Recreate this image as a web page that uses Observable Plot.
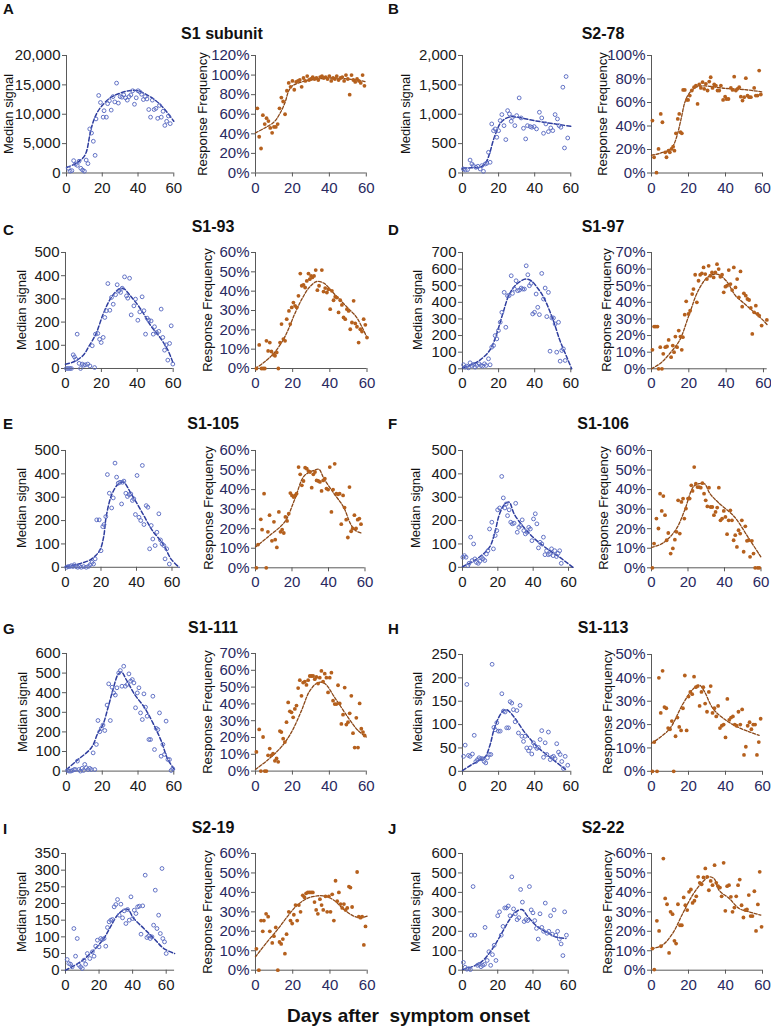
<!DOCTYPE html>
<html><head><meta charset="utf-8">
<script src="https://cdn.jsdelivr.net/npm/d3@7"></script>
<script src="https://cdn.jsdelivr.net/npm/@observablehq/plot@0.6"></script>
<style>
html,body{margin:0;padding:0;background:#fff;}
#chart{position:relative;width:771px;height:1026px;overflow:hidden;font-family:"Liberation Sans",Arial,sans-serif;background:#fff;}
#chart svg{position:absolute;}
.lbl{position:absolute;white-space:nowrap;}
.title{font-weight:bold;font-size:16px;line-height:16px;color:#111;transform:translate(-50%,-50%);}
.letter{font-weight:bold;font-size:15px;line-height:15px;color:#111;transform:translate(0,-50%);}
.ytitle{font-size:13px;line-height:13px;color:#111;transform:translate(-50%,-50%) rotate(-90deg);}
.xtitle{font-weight:bold;font-size:19px;line-height:19px;color:#111;white-space:pre;transform:translate(0,-50%);}
</style></head><body><div id="chart"></div><script>
// ---------------- DATA (day, value) ----------------
const A_signal = [[1,800],[2,300],[3,400],[4,2100],[5,1500],[6,1300],[7,2000],[8,800],[9,500],[10,300],[11,2200],[12,1600],[13,7500],[14,6800],[15,5400],[16,3000],[16.5,9200],[18,13200],[19,12000],[20.5,9500],[21,10600],[22.3,9500],[23,11800],[24,12300],[25,10700],[26,13000],[27,12100],[28,15300],[29,11900],[30,13000],[31,12900],[32,13300],[33,12800],[34,12400],[35,13000],[36,13300],[37,14000],[38,11700],[39,12800],[40,14000],[41,13800],[42,13400],[43,12500],[44,13000],[45,12600],[46,10800],[47,9500],[48,12400],[49,10800],[50,11000],[51,9300],[52,11500],[53,9500],[54,10500],[55,8100],[56,8800],[57,9700],[58,8400]];
const A_signal_fit = [[0,900],[5,1600],[9,2500],[11,3500],[13,6400],[14.5,8300],[17,10200],[20,11500],[25,12900],[30,13600],[35,14000],[40,14000],[45,13300],[50,12300],[55,10800],[60,8800]];
const A_resp = [[1,66],[2,37],[3,25],[4,59],[5,50],[6,56],[7,53],[8,46],[9,41],[10,47],[11,47],[12,50],[13,66],[14,77],[15,73],[16,60],[17,84],[18,92],[19,88],[20,94],[21,85],[22,93],[23,94],[24,95],[25,88],[26,97],[27,94],[28,99],[29,95],[30,96],[31,98],[32,96],[33,97],[34,95],[35,98],[36,99],[37,97],[38,98],[39,96],[40,99],[41,94],[42,97],[43,96],[44,99],[45,95],[46,97],[47,98],[48,94],[49,100],[50,96],[51,80],[52,100],[53,95],[54,93],[55,96],[56,94],[57,92],[58,100],[59,89]];
const A_resp_fit = [[0,41],[5,46],[10,52],[13,60],[16,72],[18,84],[20,89],[25,93],[30,95],[40,97],[50,96],[55,95],[60,93]];

const B_signal = [[0.5,68],[1.5,51],[2.8,57],[4.2,220],[5.2,153],[6,125],[7.4,97],[8.5,114],[9.8,68],[10.7,125],[11.6,28],[12.6,153],[13.5,165],[14.4,352],[15.3,182],[16.2,835],[17.2,720],[18.1,750],[19,608],[20,720],[20.9,892],[21.8,994],[23,806],[24,568],[25,1062],[26,1005],[27,880],[27.7,948],[29,806],[30,977],[31.4,1278],[32.5,937],[33.8,761],[35,580],[36,806],[37.5,790],[38.4,778],[39.7,790],[41,750],[42.6,1034],[43.9,937],[44.9,676],[46.2,835],[47.6,704],[48.9,767],[50,721],[51.3,994],[52.6,920],[53.5,806],[54.5,778],[55.6,1460],[56.5,426],[57.4,1642],[58.3,596]];
const B_signal_fit = [[0,85],[5,88],[10,100],[13,180],[15,330],[17,550],[19,720],[21,850],[24,930],[27,960],[30,950],[40,890],[50,840],[60,795]];
const B_resp = [[0.5,44.6],[1.4,13.4],[2.7,0.3],[3.8,20.5],[5,50.3],[5.9,43.2],[7.4,17.6],[8.1,13.4],[9.2,19],[9.9,17.6],[10.8,20.5],[11.7,22.4],[12.4,19],[13.2,33.8],[14.2,46],[15,50.3],[15.7,34.7],[16.4,33.8],[17.1,70.7],[18,70.7],[19.1,62.2],[19.8,62.2],[20.7,65.9],[21.8,70.2],[23,73],[24,74.4],[24.9,58.8],[25.8,75.3],[26.7,72.4],[27.6,77.3],[28.5,71.6],[29.4,75.9],[30.3,70.2],[31.2,77.8],[32,81.5],[33,72.4],[33.9,75.3],[34.8,74.4],[35.7,70.2],[36.6,70.2],[37.5,74.4],[38.7,62.2],[39.8,65],[40.5,63],[41.6,63],[42.9,72.4],[43.8,70.7],[44.7,82],[45.6,70.2],[46.5,71.6],[47.4,73],[48.3,65],[49.2,61.6],[50.1,64.5],[51,80.7],[51.9,65.9],[52.8,64.5],[53.7,64.5],[55.5,72.4],[56.4,65.9],[57.3,65.9],[58.2,87.2],[59.1,66.8]];
const B_resp_fit = [[0,15],[5,17],[10,20],[12,24],[14,33],[16,46],[18,60],[20,67],[23,72],[26,74],[30,74],[40,72],[50,71],[60,69]];

const C_signal = [[0.5,0],[1.5,0],[2.4,0],[3.3,0],[4.3,59],[5,50],[5.8,40],[6.5,148],[7.6,22],[8.4,0],[9.3,19],[10.2,14],[11.1,16],[12.4,19],[13.6,11],[14.9,98],[16.2,4],[16.7,148],[18,151],[19,126],[19.9,112],[21,134],[21.9,220],[22.8,249],[23.6,366],[24.7,251],[25.6,306],[26.6,277],[27.9,318],[28.8,361],[29.7,335],[30.7,328],[31.6,346],[32.9,395],[34,313],[34.7,303],[35.7,389],[36.6,231],[38.1,270],[39,299],[40.3,208],[41.4,244],[42.7,309],[43.7,249],[44.6,148],[45.5,217],[46.4,208],[47.7,205],[48.9,148],[49.6,180],[50.7,155],[52,160],[53.3,256],[54.2,134],[55.2,79],[56.1,102],[57,36],[58,108],[58.9,184],[59.8,19]];
const C_signal_fit = [[0,18],[5,30],[10,58],[13,95],[17,150],[21,235],[25,300],[29,338],[32,346],[36,315],[42,255],[47,190],[53,130],[57,80],[60,22]];
const C_resp = [[0.5,0],[2,12.2],[3.2,0],[4.1,0],[5,0],[5.9,14.3],[6.8,9.1],[7.7,13.4],[8.6,8.8],[9.7,7.1],[10.5,6.6],[11.4,8.3],[12.3,0],[13.2,13.4],[14,23],[15,15.2],[15.9,14.3],[16.8,25.5],[18,29.8],[18.7,23],[19.5,31.6],[20.4,34.1],[21.3,32.4],[22.2,31.6],[23.1,37.6],[24.1,49.1],[24.9,42.8],[25.8,43.3],[26.7,41.9],[27.6,45.3],[28.5,49.1],[29.2,46.2],[29.9,47.9],[30.6,47.1],[31.5,47.9],[32.4,50.9],[33.3,40.5],[34.2,42.8],[35.7,50.9],[36.6,39.8],[37.5,41.6],[38.4,39.3],[39.3,41],[40.2,30.7],[41.1,40.2],[42,35.3],[42.9,37.1],[43.8,36.7],[44.7,29],[45.6,35.3],[46.5,32.9],[47.4,26.4],[48.3,25.5],[49.2,30.7],[50.1,29.8],[51,20.3],[51.9,23.8],[52.8,35],[53.7,23.3],[54.6,21.6],[55.5,13.4],[56.4,20.3],[57.3,19.1],[58.2,25.5],[59.1,22.6],[60,16]];
const C_resp_fit = [[0,0],[5,3.5],[10,8],[15,15],[18,21],[21,28],[25,36],[29,42],[33,45],[37,44],[41,40],[45,36],[50,31],[54,27],[57,22],[60,16]];

const D_signal = [[0.6,24],[1.5,10],[2.4,16],[3.3,6],[4.2,36],[5.2,20],[6.1,26],[7,10],[7.9,20],[9.2,30],[10.2,20],[11.1,16],[12.2,30],[13.1,20],[14.4,60],[15.3,24],[16.2,130],[17.2,140],[18.1,200],[19,180],[19.9,230],[20.9,280],[21.8,340],[23.1,460],[24,250],[24.9,440],[25.8,440],[27,560],[27.7,454],[28.8,480],[29.7,530],[30.6,470],[31.6,474],[32.5,486],[33.4,480],[34.3,480],[35.3,620],[36.2,566],[37.1,500],[38,514],[38.9,330],[39.9,340],[40.8,450],[41.7,370],[42.6,326],[43.9,574],[44.9,420],[45.8,486],[46.7,314],[47.6,460],[48.5,106],[49.5,306],[50.4,306],[51.3,270],[52.2,100],[53.2,280],[54.1,46],[55,110],[55.9,120],[56.9,50]];
const D_signal_fit = [[0,5],[5,25],[10,55],[15,110],[18,180],[22,320],[26,450],[30,510],[35,540],[38,530],[42,480],[45,430],[50,300],[54,170],[58,65],[60.5,0]];
const D_resp = [[0.5,11.4],[1.4,25.4],[2.3,25.4],[3.2,25.4],[3.8,0],[4.7,13],[5.6,0],[6.3,9],[7.4,13],[8.3,13.4],[9.2,17.4],[10.5,7],[11.4,14],[12.1,10],[12.8,19.4],[13.7,13],[14.6,23],[15.5,19.4],[16.2,11.4],[16.8,19],[17.8,32.6],[18.6,40.6],[19.8,33],[20.7,35],[21.8,45],[22.5,48],[23.4,56.6],[24.3,40],[25.2,53],[26.1,56.6],[27,57.4],[27.9,61],[28.8,57],[29.7,54],[30.6,62],[31.5,56],[32.4,58],[33.3,55],[34.2,58],[35.1,63],[36,60],[36.9,55.4],[37.8,56.6],[38.7,46],[39.6,49.4],[40.5,50],[41.4,59.4],[42.3,51],[43.2,47.4],[44.1,61],[45,49],[45.9,54],[46.8,43],[47.7,58.6],[48.6,37.4],[49.5,45.4],[50.5,44],[51.4,42],[52.3,41.4],[53.2,36.6],[54,21],[55,34],[55.9,38],[56.8,33],[57.7,32],[59,26],[61.8,29.4]];
const D_resp_fit = [[0,0],[5,3.5],[10,9.5],[15,17],[20,32],[25,47],[30,55],[35,57],[40,53],[45,44],[50,39],[55,34],[60,29],[62,26.5]];

const E_signal = [[0.6,0],[1.5,3],[2.4,3],[3.3,7],[4.1,3],[5,11],[5.9,3],[6.9,0],[8,4],[8.9,0],[10.2,3],[11.7,0],[13,4],[13.9,11],[14.9,21],[15.8,14],[16.7,36],[17.6,203],[19,203],[20,71],[21,174],[21.7,183],[22.7,217],[23.6,397],[24.7,317],[26,254],[26.9,297],[27.9,446],[28.8,386],[29.7,360],[30.7,364],[31.6,271],[32.1,364],[32.9,369],[34,317],[34.9,303],[35.9,311],[36.8,314],[37.7,286],[38.5,293],[39.4,226],[40.3,393],[41.4,214],[42.4,200],[43.3,436],[44.2,183],[45.5,264],[46.4,257],[47.4,79],[48.3,179],[49.2,121],[50.5,93],[51.5,150],[52.6,229],[53.5,117],[54.4,100],[55.4,93],[56.1,36],[57,79],[58.5,14]];
const E_signal_fit = [[0,3],[5,10],[10,20],[14,32],[17,50],[19.5,75],[21.5,130],[23,220],[26,310],[29.5,355],[32.5,365],[37,315],[43.5,230],[49,157],[55,100],[59.5,35],[64,0]];
const E_resp = [[0.5,0],[1.4,11.9],[2.9,24.8],[3.6,19.5],[4.7,37.9],[5.9,0],[6.8,18.4],[7.7,26.9],[9,13.8],[10.1,23.5],[10.8,14.4],[11.7,10.4],[12.8,28.6],[13.7,18.4],[14.6,19.5],[15.5,17.8],[16.4,26],[17.3,24],[18.2,27.7],[19.1,38.2],[20,37],[20.9,36.2],[21.8,37],[22.5,37.9],[23.6,51.5],[24.5,47.8],[25.4,42.2],[26.3,44.4],[27.2,51.2],[28.1,50.7],[29,49.5],[29.9,49],[30.8,41],[31.7,47.8],[32.6,49],[33.5,44.7],[34.4,44.4],[35.3,43.9],[36.2,39.3],[37.1,44.7],[38,45.6],[38.9,40.5],[39.8,40],[40.7,51.5],[41.6,28.6],[42.5,40],[43.4,53.2],[44.3,37.9],[45.2,37.6],[46.1,37.9],[47,22.3],[48,37],[48.8,30.8],[49.7,24.6],[50.6,15.5],[51.5,41.3],[52.4,18.7],[53.3,20.1],[54.2,26.9],[55.1,20.1],[56,24.6],[56.9,25.2],[57.8,22.3]];
const E_resp_fit = [[0,10.7],[6.8,15.8],[16,23.5],[21.3,34.5],[26.7,47],[32,49.8],[34.8,50.3],[37.5,45.6],[43,38],[48.3,31],[52,22.6],[54.6,19.2],[57.8,17.8]];

const F_signal = [[0.2,43],[1.1,50],[2,43],[3,7],[3.7,17],[4.6,129],[5.5,29],[6.3,100],[7,36],[7.9,21],[8.9,17],[9.8,26],[10.7,43],[11.6,36],[12.6,29],[13.5,57],[14.4,71],[15.3,164],[16.6,193],[17.5,79],[18.5,136],[19.4,157],[19.9,246],[21,254],[22.2,389],[23.1,297],[24,254],[24.7,271],[25.5,221],[26.4,246],[27.3,193],[28.2,186],[29.2,189],[30.1,274],[31,150],[31.9,171],[32.9,179],[33.8,203],[34.7,157],[35.6,143],[36.6,150],[37.5,171],[38.4,164],[39.3,114],[40.2,207],[41.2,229],[42.1,186],[43,83],[43.9,107],[44.9,100],[45.8,129],[46.7,54],[47.6,71],[48.6,54],[49.5,57],[50.4,79],[51.3,50],[52.2,71],[53.2,46],[54.1,60],[55,71],[55.9,17]];
const F_signal_fit = [[0,3],[9,40],[15.3,86],[18.1,143],[21,229],[24,271],[26.4,279],[29.2,229],[34.7,171],[42,114],[49.5,71],[55,43],[58,26],[62.5,0]];
const F_resp = [[0.5,0],[1.4,12.4],[2.7,25.2],[3.8,20.1],[4.7,37.9],[5.6,29.1],[6.5,36.7],[7.4,26.9],[8.3,14.1],[9.2,17.8],[10.5,7.3],[11.7,9.9],[12.8,14.4],[13.7,18.4],[14.6,34.5],[15.5,17.5],[16.4,33.7],[17.3,35.4],[18,25.2],[18.9,30.3],[20,35.4],[20.9,35.4],[21.8,42.2],[22.5,39.3],[23.4,51.5],[24.3,43],[25.2,41.3],[26.1,41.3],[27,41],[27.9,43.3],[28.8,37.9],[29.7,34.5],[30.6,31.4],[31.5,41],[32.4,31.1],[33.3,31.1],[34.2,26.9],[35.1,28.6],[36,30.8],[36.9,41],[37.8,24.3],[38.7,25.2],[39.6,29.1],[40.5,26],[41.4,17.2],[42.3,24.3],[43.2,29.4],[44.1,24.3],[45,14.1],[45.9,16.7],[46.8,10.7],[47.7,19.2],[48.6,17.5],[49.5,24.3],[50.5,8.2],[51.4,21.2],[52.3,13.8],[53.2,14.1],[54,5.6],[55,13.8],[55.9,7.3],[56.8,0],[58.2,0],[59.1,0]];
const F_resp_fit = [[0,10.4],[6,12.5],[13,19],[18,29],[23,41.5],[26,43],[29,43],[32,38],[36.5,33.5],[45.5,26],[53,15.5],[60,5.5]];

const G_signal = [[0.6,3],[1.5,0],[2.4,0],[3.3,3],[4.3,8],[5,8],[6.1,51],[6.9,8],[7.8,0],[8.7,14],[9.5,3],[10.2,34],[11.1,17],[12.1,8],[13,14],[13.9,8],[14.9,93],[15.8,8],[16.7,136],[17.6,258],[18.6,201],[19.5,218],[20.4,235],[21.4,207],[22.7,337],[23.6,445],[24.5,258],[25.5,428],[26.4,399],[27.3,388],[28.2,425],[29.2,501],[30.1,513],[31,433],[32,535],[32.9,433],[34,442],[34.9,496],[35.9,459],[36.8,467],[37.7,450],[38.6,323],[39.6,399],[40.5,425],[41.4,297],[42.4,263],[43.3,394],[44.2,326],[45.1,280],[46.1,161],[47,161],[48.3,382],[49.2,110],[50.2,218],[51.1,212],[52,297],[52.9,76],[53.9,136],[54.8,85],[55.7,255],[56.7,59],[57.6,59],[58.5,3],[59.4,12]];
const G_signal_fit = [[0,8],[6.5,59],[13.9,119],[17.6,195],[20.4,238],[23.2,323],[26,416],[28.8,493],[30.7,506],[33.4,467],[38.1,391],[43.7,323],[48.3,246],[53,153],[56.7,59],[60.4,8]];
const G_resp = [[0.5,11.4],[2,24.8],[2.9,0],[4.1,20.3],[5,0],[5.9,0],[6.8,9.4],[7.7,13.4],[8.6,9.4],[9.5,10.4],[10.5,6.1],[11.4,7.5],[12.3,5.5],[13.2,23.8],[14,23.2],[15,19.3],[15.9,17.3],[16.8,29.1],[17.7,40.9],[18.6,35.6],[19.5,35],[20.4,32],[21.3,37],[22.2,39],[23.1,49.4],[24,54.1],[24.9,44.8],[25.8,52.7],[26.7,53.3],[27.6,51.3],[28.5,54.1],[29.4,56.6],[30.3,56.6],[31.2,56.6],[32.1,54.7],[33,56],[33.9,52.1],[34.8,55.6],[35.7,59.6],[36.6,53.3],[37.5,58],[38.4,55.6],[39.3,46.8],[40.2,55.6],[41.1,58.6],[42,41.9],[42.9,39.9],[43.8,39.9],[44.7,51.1],[45.6,40.3],[46.5,28.1],[47.4,33.6],[48.3,49.7],[49.2,27.7],[50.1,29.1],[51,34.4],[51.9,44.8],[52.8,22.6],[53.7,14],[54.6,31.7],[55.5,14],[56.4,40.3],[57.3,25.2],[58.2,23.2],[59.1,21.2]];
const G_resp_fit = [[0,1],[6.6,6.6],[14,14.4],[19.5,23.2],[24.9,36],[29.4,47.8],[33.9,52.7],[37.5,52.1],[42.9,43.8],[50.1,32],[55.5,24.2],[60,20.3]];

const H_signal = [[0.6,32],[1.5,56],[2.4,186],[3.3,34],[4.2,32],[5.5,37],[6.5,77],[7.4,21],[8.3,25],[9.2,29],[10.2,27],[11.1,27],[12,21],[12.9,18],[13.8,29],[14.8,36],[15.7,36],[16.4,229],[17.4,94],[18.1,89],[19,104],[19.9,86],[20.9,86],[21.8,166],[22.7,129],[23.6,127],[24.5,93],[25.5,93],[26.4,149],[27.3,146],[28.2,132],[29.2,106],[30.1,130],[31,82],[31.9,141],[32.9,75],[33.8,64],[34.7,75],[35.6,50],[36.6,44],[37.5,50],[38.4,37],[39.3,61],[40.2,54],[41.2,49],[42.1,51],[43,68],[43.9,87],[44.9,30],[45.8,61],[46.7,36],[47.6,84],[48.6,25],[49.5,30],[50.4,32],[51.3,27],[52.2,59],[53.2,41],[54.1,36],[55,21],[55.9,6],[56.9,32],[58.3,13]];
const H_signal_fit = [[0,1.5],[5,14],[10,25],[12.6,31],[15.3,57],[17.2,86],[19.9,114],[22.7,130],[24.5,132],[28.2,118],[34.7,82],[42.1,50],[49.5,27],[57,4]];
const H_resp = [[0.5,0],[1.5,12.5],[3,0],[4,40],[5,25],[6,43],[7,27.5],[8,27],[9,18.5],[10,18],[11,21.5],[12,0],[13,15],[14,23],[15,19],[16,17.5],[17,27],[18,41],[19,17.5],[20,32],[21,34],[22,33],[23,40.5],[24,36],[25,36.5],[26,28],[27,34],[28,36],[29,29],[30,25.5],[31,34],[32,36.5],[33,25],[34,27],[35,23.5],[36,28],[37,18.5],[38,19.5],[39,20],[40,14.5],[41,31],[42,22],[43,23],[44,23.5],[45,20],[46,19.5],[47,25.5],[48,20],[49,26.5],[50,7],[51,10.5],[52,19.5],[53,21],[54,18],[55,20],[56,20],[57,7],[58,12.5],[59,22.5]];
const H_resp_fit = [[0,12],[9.5,17.9],[16.8,28.6],[22.2,35],[25.8,36.9],[28.5,34.3],[33,27.1],[38.4,22.9],[45.6,19.3],[52.8,16.9],[58.2,15.4]];

const I_signal = [[1,32],[2,20],[3,18],[4,10],[5,125],[6,42],[7,95],[8,15],[9,10],[10,5],[11,30],[12,18],[13,50],[14.5,35],[16,55],[17,42],[18,72],[19,90],[20,70],[21,95],[22,92],[23,95],[24,72],[25,128],[26,145],[27,150],[28,152],[29,190],[30,197],[31,212],[32,165],[33,198],[34,157],[35,178],[36,140],[37,182],[38,150],[39,220],[40,155],[41,180],[42,170],[43,190],[44,192],[45,108],[46,193],[47.5,285],[48.5,98],[49.5,102],[50.5,95],[51.5,100],[52.5,135],[53.5,240],[54.5,125],[55.5,165],[56.5,110],[57.5,305],[58,95],[59,85],[60,50]];
const I_signal_fit = [[0,0],[8.9,25],[16.9,60],[22.8,95],[26.8,130],[31.8,170],[36.8,183],[40.7,155],[46.7,125],[52.7,95],[58.6,65],[65,50]];
const I_resp = [[0.5,11],[1.8,0],[3,25.5],[3.9,20],[4.5,25.5],[5.7,29],[6.8,27.5],[7.7,20],[9,14],[9.9,17.5],[10.9,22],[12,0],[12.9,14.5],[13.8,13.5],[14.7,16],[15.8,8.5],[16.7,18.5],[17.9,30],[18.8,25.5],[19.7,24],[20.6,28.5],[21.5,33.5],[22.4,25.5],[23.3,33.5],[24.2,30],[25.4,38.5],[26.3,37.5],[27.2,39.5],[28.1,40],[29,40],[29.9,40],[30.8,40],[31.7,35],[32.6,31],[33.5,29],[34.6,36.5],[35.5,33.5],[36.4,31],[37.6,38],[38.5,30],[39.4,38],[40.3,30],[41.2,39],[42.1,25.5],[43,46],[43.9,35.5],[44.8,40],[45.7,34],[46.6,32],[47.5,34],[48.4,31],[49.3,32],[50.2,43],[51,42.5],[51.9,32.5],[54.6,50.5],[55.5,27.5],[56.4,27],[57.3,27.5],[58.2,13],[59.1,22.5]];
const I_resp_fit = [[0,6.9],[6.3,14.6],[11.6,20.6],[17,27.4],[22.4,33.4],[27.8,36.9],[33.1,38.2],[37.6,38],[42.1,36],[47.5,31.2],[52.8,27.8],[56.4,27],[60,27.8]];

const J_signal = [[0.5,40],[1.5,15],[2.5,5],[3.5,8],[4.5,3],[5,180],[6,430],[7,180],[8.5,25],[9.5,30],[10.5,18],[11.5,25],[12.5,30],[12.8,220],[14,50],[15,95],[16,25],[17,80],[18,128],[19,50],[20,280],[21,300],[22,180],[23,225],[24,320],[25,320],[26,330],[27,280],[28,480],[29,315],[30,290],[31,260],[32,270],[33,415],[34,350],[35,250],[36,260],[37,255],[38,430],[39,310],[40,295],[41,255],[42,215],[43,160],[44,290],[45,220],[46,200],[47,345],[48,190],[49,200],[50,280],[51,185],[52,310],[53,180],[54,200],[55,160],[56,135],[57,75],[58,300],[59,180]];
const J_signal_fit = [[0,3],[9.5,34],[15.1,86],[18.9,137],[22.7,197],[26.5,257],[30.3,300],[33.7,312],[36.9,278],[41.6,231],[47.3,197],[53,171],[58.7,163]];
const J_resp = [[0.5,11.1],[1.5,0.3],[2.9,25.4],[4.1,20.2],[5.1,12.3],[6.4,57.4],[7.4,36.9],[8.4,33.9],[9.5,8.9],[10.3,30],[11.4,28.8],[12.4,15.1],[13.3,13.7],[14.3,33.9],[15.4,23.1],[16.4,23.1],[17.4,37.4],[18.3,33.4],[19.3,30.9],[20.3,40.3],[21.3,41.5],[22.2,34.6],[23.2,35.7],[24.2,38],[25.2,48],[26.1,44.9],[27.1,44.2],[28.1,47.7],[29.1,52.3],[30.1,48],[31,41.1],[32,45.9],[33,43.7],[34.1,54],[35,44.9],[36,43.2],[37,42.5],[37.9,38],[39,55.2],[39.9,30.5],[40.9,43.2],[41.9,43.7],[42.9,37.7],[43.8,30],[44.8,32.2],[45.8,38],[46.8,43.7],[47.7,46.6],[48.7,33.4],[49.7,27.1],[50.7,30.9],[51.6,31.2],[52.6,38.6],[53.6,27.8],[54.6,27.8],[55.6,40.6],[56.5,20.2],[57.5,33.8],[58.5,50.6],[59.5,22.3]];
const J_resp_fit = [[0,11],[5.9,12.9],[11.4,18.9],[16.8,29],[22.2,38.6],[27.6,45.4],[31.2,48],[33.9,47],[36.6,41],[42,36.9],[47.4,31.7],[52.8,30],[59.1,28.3]];

const panelLetters = ["A","B","C","D","E","F","G","H","I","J"];
const panelTitles = ["S1 subunit","S2-78","S1-93","S1-97","S1-105","S1-106","S1-111","S1-113","S2-19","S2-22"];
const xTicks = [0, 20, 40, 60];
const signalTitle = "Median signal";
const respTitle = "Response Frequency";
const xAxisTitle = "Days after  symptom onset";

// ---------------- STYLE ----------------
const AXIS = "#595959";
const BLUE_PT = "#5b6bc2", BLUE_LN = "#2e3d9e";
const BROWN_PT = "#b5601d", BROWN_LN = "#8a4819";
const FONT = '"Liberation Sans", Arial, sans-serif';

// ---------------- LAYOUT ----------------
const subplots = [
  {pts:A_signal, fit:A_signal_fit, kind:"sig", x0:65.5, w60:107.3, xmax:60, top:55, bot:172.5, ymax:20000, step:5000, ytx:8},
  {pts:A_resp, fit:A_resp_fit, kind:"resp", x0:254.5, w60:110.8, xmax:60, top:55, bot:172.5, ymax:120, step:20, ytx:202},
  {pts:B_signal, fit:B_signal_fit, kind:"sig", x0:462, w60:108.3, xmax:60, top:55, bot:172.5, ymax:2000, step:500, ytx:405},
  {pts:B_resp, fit:B_resp_fit, kind:"resp", x0:650.7, w60:111, xmax:60, top:55, bot:172.5, ymax:100, step:20, ytx:601.7},
  {pts:C_signal, fit:C_signal_fit, kind:"sig", x0:65, w60:107.7, xmax:60, top:251.7, bot:367.7, ymax:500, step:100, ytx:21},
  {pts:C_resp, fit:C_resp_fit, kind:"resp", x0:254.5, w60:111.5, xmax:60, top:251.7, bot:367.7, ymax:60, step:10, ytx:207},
  {pts:D_signal, fit:D_signal_fit, kind:"sig", x0:462, w60:108.3, xmax:61, top:251.7, bot:368, ymax:700, step:100, ytx:417},
  {pts:D_resp, fit:D_resp_fit, kind:"resp", x0:650.7, w60:112, xmax:62, top:251.7, bot:368, ymax:70, step:10, ytx:605.7},
  {pts:E_signal, fit:E_signal_fit, kind:"sig", x0:65, w60:106.5, xmax:64, top:449.7, bot:566.5, ymax:500, step:100, ytx:21},
  {pts:E_resp, fit:E_resp_fit, kind:"resp", x0:254.5, w60:109.5, xmax:60, top:449.7, bot:567, ymax:60, step:10, ytx:208},
  {pts:F_signal, fit:F_signal_fit, kind:"sig", x0:462, w60:106, xmax:63, top:449.7, bot:566.5, ymax:500, step:100, ytx:415},
  {pts:F_resp, fit:F_resp_fit, kind:"resp", x0:650.7, w60:109.5, xmax:60, top:449.7, bot:567, ymax:60, step:10, ytx:603},
  {pts:G_signal, fit:G_signal_fit, kind:"sig", x0:65.5, w60:107.3, xmax:60.5, top:652.7, bot:770.3, ymax:600, step:100, ytx:22},
  {pts:G_resp, fit:G_resp_fit, kind:"resp", x0:254.5, w60:110.8, xmax:60, top:652.7, bot:770.3, ymax:70, step:10, ytx:207},
  {pts:H_signal, fit:H_signal_fit, kind:"sig", x0:462, w60:108.3, xmax:60, top:653.5, bot:770.3, ymax:250, step:50, ytx:417},
  {pts:H_resp, fit:H_resp_fit, kind:"resp", x0:650.7, w60:111, xmax:60, top:653.5, bot:770.3, ymax:50, step:10, ytx:607},
  {pts:I_signal, fit:I_signal_fit, kind:"sig", x0:65, w60:100.7, xmax:65, top:853.3, bot:970, ymax:350, step:50, ytx:20.5},
  {pts:I_resp, fit:I_resp_fit, kind:"resp", x0:254.5, w60:111.7, xmax:60, top:853.3, bot:970, ymax:60, step:10, ytx:207},
  {pts:J_signal, fit:J_signal_fit, kind:"sig", x0:461.7, w60:105.7, xmax:60, top:853.3, bot:970, ymax:600, step:100, ytx:415},
  {pts:J_resp, fit:J_resp_fit, kind:"resp", x0:650.7, w60:111, xmax:60, top:853.3, bot:970, ymax:60, step:10, ytx:607}
];
const titlePos = [[222,34],[603,34],[213,226.7],[603,226.7],[213,423.5],[603,423.5],[213,628.2],[603,628.2],[213,828],[603,828]];
const letterPos = [[3,8.3],[388,8.3],[3,229],[388,228.7],[3,423],[388,423],[3,628.3],[388,628.3],[3,828.3],[388,828.3]];

const chart = document.getElementById("chart");

function addLabel(cls, text, x, y) {
  const d = document.createElement("div");
  d.className = "lbl " + cls;
  d.textContent = text;
  d.style.left = x + "px";
  d.style.top = y + "px";
  chart.appendChild(d);
}

function subplot(p) {
  const mL = 52, mR = 12, mT = 8, mB = 28;
  const plotW = p.w60 * p.xmax / 60;
  const plotH = p.bot - p.top;
  const isResp = p.kind === "resp";
  const tickCol = isResp ? "#29295f" : "#1a1a1a";
  const yt = d3.range(0, p.ymax + 1e-9, p.step);
  const fmt = isResp ? (d => d + "%") : d3.format(",");
  const svg = Plot.plot({
    width: mL + plotW + mR,
    height: mT + plotH + mB,
    marginLeft: mL, marginRight: mR, marginTop: mT, marginBottom: mB,
    style: {fontFamily: FONT, fontSize: "15px", background: "none", overflow: "visible"},
    x: {domain: [0, p.xmax]},
    y: {domain: [0, p.ymax]},
    marks: [
      Plot.axisX({ticks: xTicks, tickSize: 4, tickPadding: 5, stroke: AXIS, fill: tickCol, label: null, fontSize: 15}),
      Plot.axisY({ticks: yt, tickSize: 4, tickPadding: 2, tickFormat: fmt, stroke: AXIS, fill: tickCol, label: null, fontSize: 15}),
      Plot.ruleY([0], {stroke: AXIS, strokeWidth: 1}),
      Plot.ruleX([0], {stroke: AXIS, strokeWidth: 1}),
      Plot.line(p.fit, {x: d => d[0], y: d => d[1], curve: "catmull-rom",
        stroke: isResp ? BROWN_LN : BLUE_LN, strokeWidth: isResp ? 1.3 : 1.5,
        strokeDasharray: isResp ? "3,1.6" : "4,2.2"}),
      isResp
        ? Plot.dot(p.pts, {x: d => d[0], y: d => d[1], r: 1.9, fill: BROWN_PT, stroke: "none"})
        : Plot.dot(p.pts, {x: d => d[0], y: d => d[1], r: 1.9, fill: "none", stroke: BLUE_PT, strokeWidth: 0.95})
    ]
  });
  svg.style.left = (p.x0 - mL) + "px";
  svg.style.top = (p.top - mT) + "px";
  chart.appendChild(svg);
  addLabel("ytitle", isResp ? respTitle : signalTitle, p.ytx, (p.top + p.bot) / 2);
}

subplots.forEach(subplot);
panelTitles.forEach((t, i) => addLabel("title", t, titlePos[i][0], titlePos[i][1]));
panelLetters.forEach((t, i) => addLabel("letter", t, letterPos[i][0], letterPos[i][1]));
addLabel("xtitle", xAxisTitle, 287, 1014.5);
</script></body></html>
